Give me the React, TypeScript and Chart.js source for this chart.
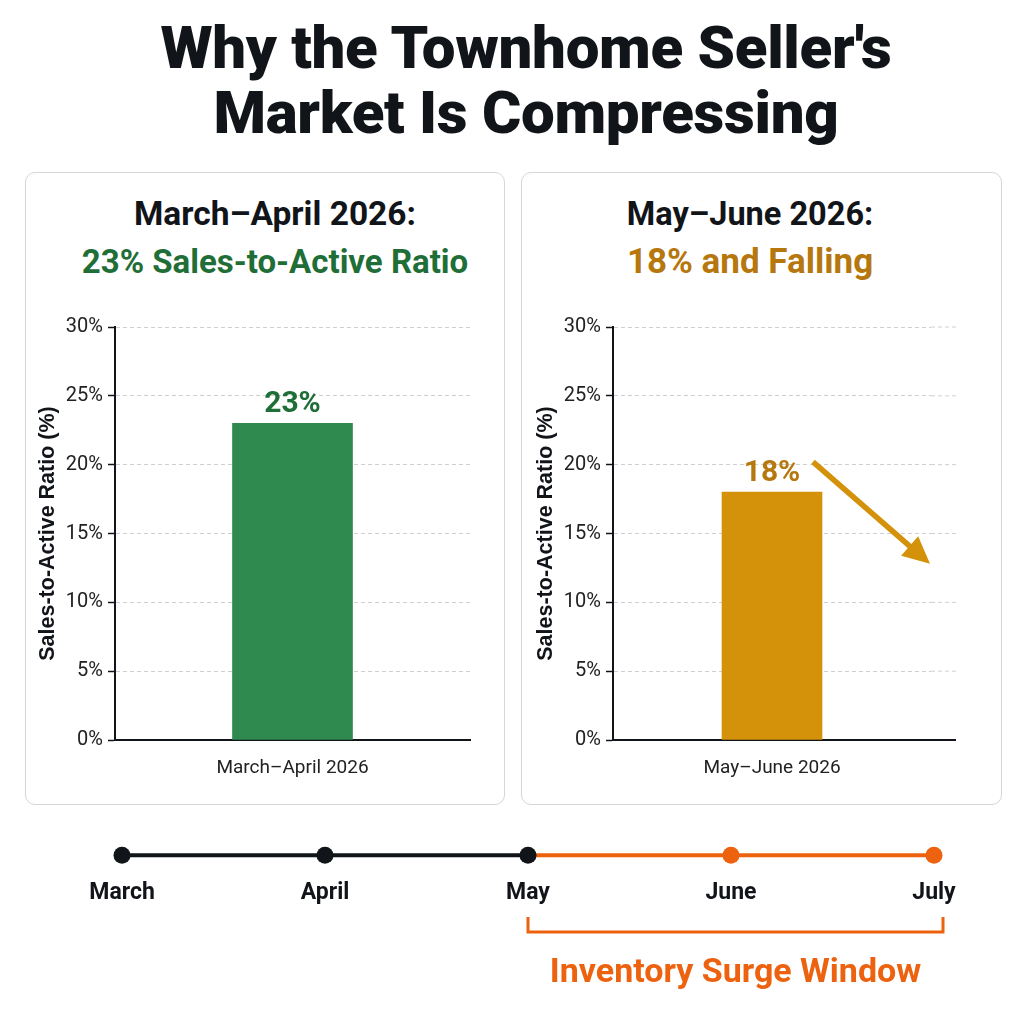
import React, { useEffect, useRef } from "react";
import { Chart, registerables } from "chart.js";

Chart.register(...registerables);

// ---------- data ----------
const leftCategories = ["March–April 2026"];
const leftValues = [23];
const rightCategories = ["May–June 2026"];
const rightValues = [18];
const yTickMin = 0;
const yTickMax = 30;
const yTickStep = 5;
const trendArrowValues = [20.2, 12.8]; // start / end of the "falling" arrow (in %)
const timelineMonths = ["March", "April", "May", "June", "July"];
const timelineValues = [0, 0, 0, 0, 0];
const surgeStartIndex = 2;
const surgeEndIndex = 4;
const surgeLabel = "Inventory Surge Window";

// ---------- styles ----------
const NARROW = "Roboto, 'Liberation Sans', sans-serif";
const HEAVY = "Roboto, 'Liberation Sans', Arial, sans-serif";
const GREEN_BAR = "#2e8a4f";
const GREEN_TEXT = "#1f6e37";
const GOLD_BAR = "#d4920b";
const GOLD_TEXT = "#b5770e";
const ORANGE = "#ec620f";
const INK = "#111418";

type BarOpts = {
  labels: string[];
  values: number[];
  barColor: string;
  labelColor: string;
  barWidth: number;
  padLeft: number;
  padRight: number;
  extendRight: number;
  arrow: boolean;
};

function makeBarChart(canvas: HTMLCanvasElement, o: BarOpts) {
  const valueLabel = {
    id: "valueLabel",
    afterDatasetsDraw(chart: any) {
      const ctx = chart.ctx;
      const meta = chart.getDatasetMeta(0);
      ctx.save();
      ctx.fillStyle = o.labelColor;
      ctx.font = `700 30px ${HEAVY}`;
      ctx.textAlign = "center";
      ctx.textBaseline = "alphabetic";
      meta.data.forEach((el: any, i: number) => {
        ctx.fillText(`${o.values[i]}%`, el.x, el.y - 11);
      });
      ctx.restore();
    },
  };
  const extension = {
    id: "extension",
    beforeDatasetsDraw(chart: any) {
      if (!o.extendRight) return;
      const ctx = chart.ctx;
      const ys = chart.scales.y;
      const r = chart.chartArea.right;
      ctx.save();
      ys.ticks.forEach((t: any) => {
        const py = ys.getPixelForValue(t.value);
        if (t.value === yTickMin) return;
        ctx.strokeStyle = "#cfcfcf";
        ctx.lineWidth = 1;
        ctx.setLineDash([4, 3]);
        ctx.beginPath();
        ctx.moveTo(r, py);
        ctx.lineTo(r + o.extendRight, py);
        ctx.stroke();
      });
      ctx.setLineDash([]);
      ctx.strokeStyle = INK;
      ctx.lineWidth = 2;
      const py0 = ys.getPixelForValue(yTickMin);
      ctx.beginPath();
      ctx.moveTo(r - 1, py0);
      ctx.lineTo(r + o.extendRight, py0);
      ctx.stroke();
      ctx.restore();
    },
  };
  const arrow = {
    id: "trendArrow",
    afterDatasetsDraw(chart: any) {
      if (!o.arrow) return;
      const ctx = chart.ctx;
      const bar = chart.getDatasetMeta(0).data[0];
      const ys = chart.scales.y;
      const x0 = bar.x + 41;
      const y0 = ys.getPixelForValue(trendArrowValues[0]);
      const x1 = chart.chartArea.right - 1;
      const y1 = ys.getPixelForValue(trendArrowValues[1]);
      const dx = x1 - x0;
      const dy = y1 - y0;
      const len = Math.hypot(dx, dy);
      const ux = dx / len;
      const uy = dy / len;
      const head = 27;
      const half = 13;
      ctx.save();
      ctx.strokeStyle = GOLD_BAR;
      ctx.fillStyle = GOLD_BAR;
      ctx.lineWidth = 5.5;
      ctx.lineCap = "butt";
      ctx.beginPath();
      ctx.moveTo(x0, y0);
      ctx.lineTo(x1 - ux * head * 0.8, y1 - uy * head * 0.8);
      ctx.stroke();
      const bx = x1 - ux * head;
      const by = y1 - uy * head;
      ctx.beginPath();
      ctx.moveTo(x1, y1);
      ctx.lineTo(bx - uy * half, by + ux * half);
      ctx.lineTo(bx + uy * half, by - ux * half);
      ctx.closePath();
      ctx.fill();
      ctx.restore();
    },
  };

  return new Chart(canvas, {
    type: "bar",
    data: {
      labels: o.labels,
      datasets: [
        {
          data: o.values,
          backgroundColor: o.barColor,
          borderWidth: 0,
          barThickness: o.barWidth,
        },
      ],
    },
    options: {
      responsive: false,
      animation: false,
      events: [],
      layout: { padding: { left: o.padLeft, right: o.padRight, top: 27, bottom: 10 } },
      plugins: { legend: { display: false }, tooltip: { enabled: false }, title: { display: false } },
      scales: {
        x: {
          grid: { display: false },
          border: { display: true, color: INK, width: 2 },
          ticks: { color: "#222", font: { family: NARROW, size: 19 }, padding: 9 },
          afterFit: (s: any) => {
            s.height = 40;
          },
        },
        y: {
          min: yTickMin,
          max: yTickMax,
          ticks: {
            stepSize: yTickStep,
            color: "#222",
            font: { family: NARROW, size: 20 },
            padding: 5,
            callback: (v: any) => `${v}%`,
          },
          grid: {
            color: "#cfcfcf",
            lineWidth: 1,
            drawTicks: true,
            tickLength: 7,
            tickColor: INK,
            tickWidth: 1.5,
            tickBorderDash: [],
          },
          border: { display: true, color: INK, width: 2, dash: [4, 3] },
          title: {
            display: true,
            text: "Sales-to-Active Ratio (%)",
            color: INK,
            font: { family: "'Liberation Sans', Arial, sans-serif", size: 21.5, weight: "bold" },
            padding: { top: 2, bottom: 2 },
          },
          afterFit: (s: any) => {
            s.width = 82;
          },
        },
      },
    },
    plugins: [extension, valueLabel, arrow],
  } as any);
}

function makeTimeline(canvas: HTMLCanvasElement) {
  const bracket = {
    id: "bracket",
    afterDraw(chart: any) {
      const ctx = chart.ctx;
      const xs = chart.scales.x;
      const xa = xs.getPixelForValue(surgeStartIndex);
      const xb = xs.getPixelForValue(surgeEndIndex) + 9;
      const top = chart.chartArea.bottom + 50;
      const bottom = chart.chartArea.bottom + 65;
      ctx.save();
      ctx.strokeStyle = ORANGE;
      ctx.lineWidth = 3;
      ctx.lineJoin = "miter";
      ctx.beginPath();
      ctx.moveTo(xa, top);
      ctx.lineTo(xa, bottom);
      ctx.lineTo(xb, bottom);
      ctx.lineTo(xb, top);
      ctx.stroke();
      ctx.fillStyle = ORANGE;
      ctx.font = `700 34px ${NARROW}`;
      ctx.textAlign = "center";
      ctx.textBaseline = "alphabetic";
      ctx.fillText(surgeLabel, (xa + xb) / 2, bottom + 50);
      ctx.restore();
    },
  };
  const pointColors = timelineMonths.map((_, i) => (i <= surgeStartIndex ? INK : ORANGE));
  return new Chart(canvas, {
    type: "line",
    data: {
      labels: timelineMonths,
      datasets: [
        {
          data: timelineValues,
          borderWidth: 4,
          borderColor: INK,
          segment: {
            borderColor: (c: any) => (c.p0DataIndex >= surgeStartIndex ? ORANGE : INK),
          },
          pointRadius: 8.5,
          pointBorderWidth: 0,
          pointBackgroundColor: pointColors,
          pointBorderColor: pointColors,
          clip: false,
        },
      ],
    },
    options: {
      responsive: false,
      animation: false,
      events: [],
      layout: { padding: { left: 122, right: 90, top: 3, bottom: 103 } },
      plugins: { legend: { display: false }, tooltip: { enabled: false } },
      scales: {
        x: {
          offset: false,
          grid: { display: false },
          border: { display: false },
          ticks: { color: INK, font: { family: HEAVY, size: 23, weight: "bold" }, padding: 4 },
          afterFit: (s: any) => {
            s.height = 40;
          },
        },
        y: { display: false, min: -0.7, max: 1 },
      },
    },
    plugins: [bracket],
  } as any);
}

const panelStyle = (left: number, width: number): React.CSSProperties => ({
  position: "absolute",
  left,
  top: 172,
  width,
  height: 633,
  boxSizing: "border-box",
  border: "1.5px solid #d6d6d6",
  borderRadius: 10,
  background: "#ffffff",
});

const headingStyle = (center: number, top: number, size: number, color: string): React.CSSProperties => ({
  position: "absolute",
  left: center - 250,
  width: 500,
  top,
  height: 48,
  lineHeight: "48px",
  textAlign: "center",
  fontFamily: HEAVY,
  fontWeight: 700,
  fontSize: size,
  color,
  whiteSpace: "nowrap",
});

export default function App() {
  const leftRef = useRef<HTMLCanvasElement>(null);
  const rightRef = useRef<HTMLCanvasElement>(null);
  const tlRef = useRef<HTMLCanvasElement>(null);

  useEffect(() => {
    const charts: Chart[] = [];
    if (leftRef.current)
      charts.push(
        makeBarChart(leftRef.current, {
          labels: leftCategories,
          values: leftValues,
          barColor: GREEN_BAR,
          labelColor: GREEN_TEXT,
          barWidth: 120,
          padLeft: 8,
          padRight: 35,
          extendRight: 0,
          arrow: false,
        })
      );
    if (rightRef.current)
      charts.push(
        makeBarChart(rightRef.current, {
          labels: rightCategories,
          values: rightValues,
          barColor: GOLD_BAR,
          labelColor: GOLD_TEXT,
          barWidth: 100,
          padLeft: 10,
          padRight: 71,
          extendRight: 25,
          arrow: true,
        })
      );
    if (tlRef.current) charts.push(makeTimeline(tlRef.current));
    return () => charts.forEach((c) => c.destroy());
  }, []);

  return (
    <div
      style={{
        position: "fixed",
        left: 0,
        top: 0,
        width: 1024,
        height: 1024,
        background: "#ffffff",
        overflow: "hidden",
      }}
    >
      <div
        style={{
          position: "absolute",
          left: 14,
          top: 15,
          width: 1024,
          textAlign: "center",
          fontFamily: HEAVY,
          fontWeight: 900,
          fontSize: 60,
          lineHeight: "65px",
          letterSpacing: "-0.3px",
          color: INK,
        }}
      >
        Why the Townhome Seller's
        <br />
        Market Is Compressing
      </div>

      <div style={panelStyle(25, 480)} />
      <div style={panelStyle(521, 481)} />

      <div style={headingStyle(275, 190, 33.5, INK)}>March–April 2026:</div>
      <div style={headingStyle(275, 238, 33, GREEN_TEXT)}>23% Sales-to-Active Ratio</div>
      <div style={headingStyle(750, 190, 32.5, INK)}>May–June 2026:</div>
      <div style={headingStyle(750, 238, 35, GOLD_TEXT)}>18% and Falling</div>

      <canvas
        ref={leftRef}
        width={480}
        height={490}
        style={{ position: "absolute", left: 25, top: 300, width: 480, height: 490 }}
      />
      <canvas
        ref={rightRef}
        width={481}
        height={490}
        style={{ position: "absolute", left: 521, top: 300, width: 481, height: 490 }}
      />
      <canvas
        ref={tlRef}
        width={1024}
        height={180}
        style={{ position: "absolute", left: 0, top: 830, width: 1024, height: 180 }}
      />
    </div>
  );
}
